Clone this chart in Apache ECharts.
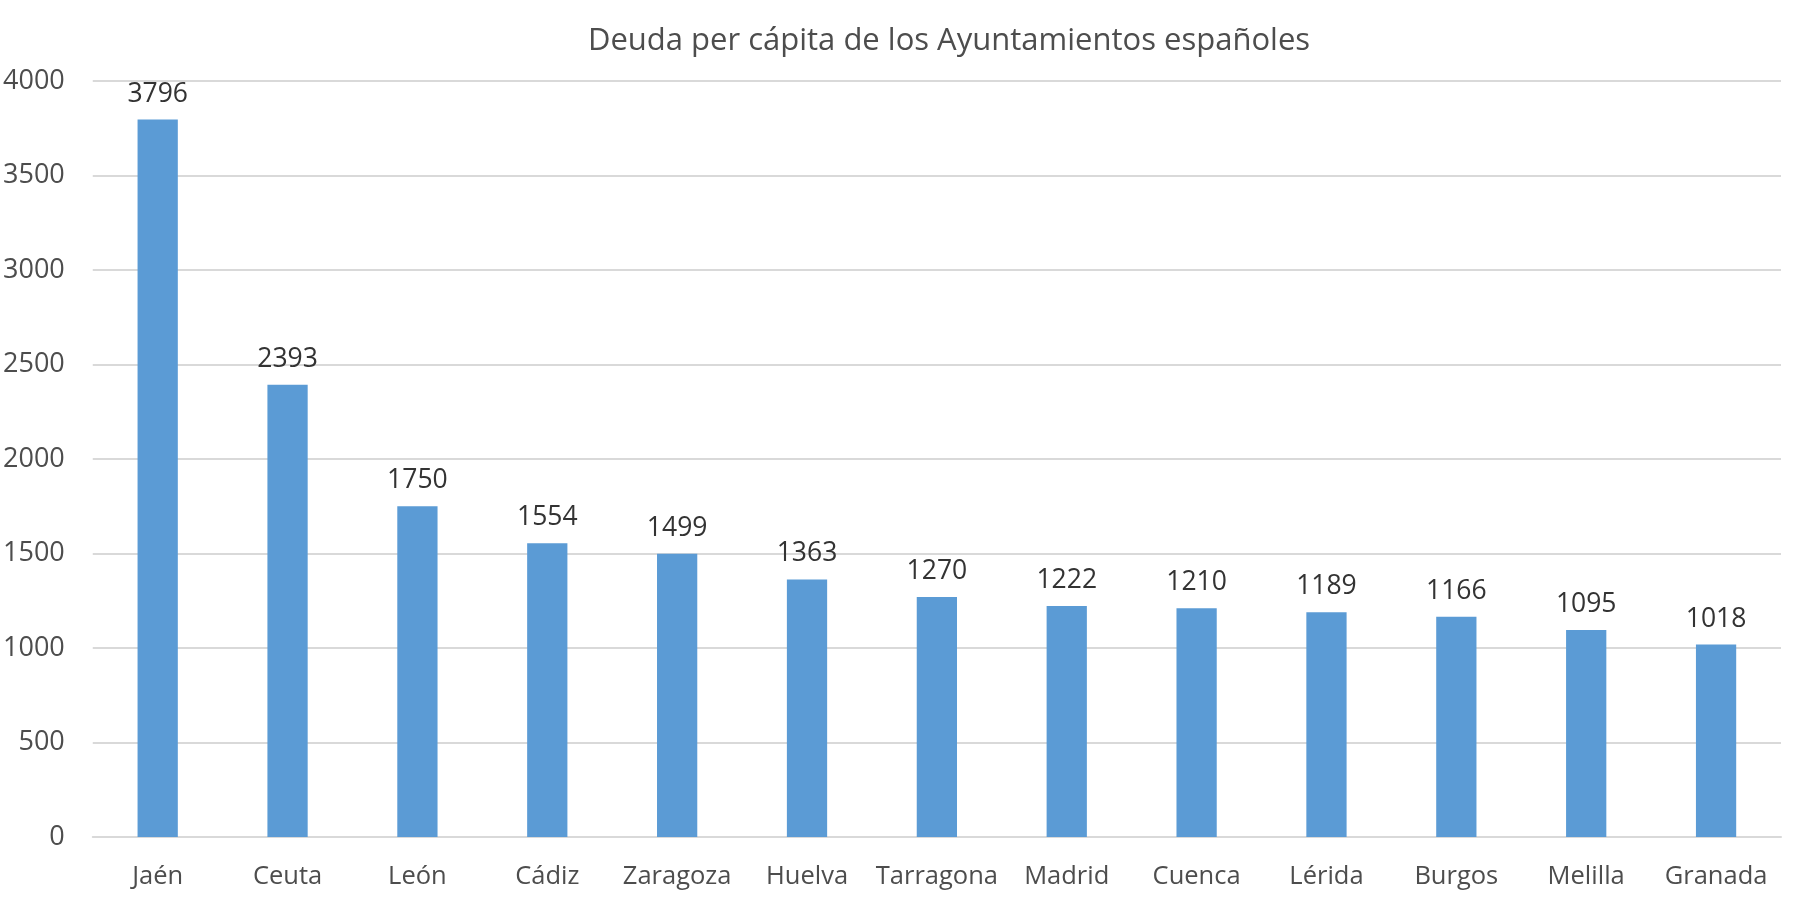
<!DOCTYPE html>
<html>
<head>
<meta charset="utf-8">
<script src="https://cdn.jsdelivr.net/npm/echarts@6/dist/echarts.min.js"></script>
<style>html,body{margin:0;padding:0;background:#fff}#c{width:1793px;height:903px}</style>
</head>
<body>
<div id="c"></div>
<script>
const titleText = 'Deuda per cápita de los Ayuntamientos españoles';
const categories = ['Jaén','Ceuta','León','Cádiz','Zaragoza','Huelva','Tarragona','Madrid','Cuenca','Lérida','Burgos','Melilla','Granada'];
const values = [3796,2393,1750,1554,1499,1363,1270,1222,1210,1189,1166,1095,1018];
const yMin = 0, yMax = 4000, yStep = 500;

const font = '"Open Sans", "Liberation Sans", sans-serif';
const chart = echarts.init(document.getElementById('c'), null, {renderer:'canvas'});
chart.setOption({
  animation: false,
  backgroundColor: '#ffffff',
  title: {
    text: titleText,
    left: 944, top: 21, textAlign: 'center',
    textStyle: {fontFamily: font, fontSize: 31, fontWeight: 'normal', color: '#4d4d4d'}
  },
  grid: {left: 91, right: 12, top: 81, bottom: 66, containLabel: false},
  xAxis: {
    type: 'category', data: categories,
    axisLine: {lineStyle: {color: '#D9D9D9', width: 2}},
    axisTick: {show: false},
    axisLabel: {interval: 0, fontFamily: font, fontSize: 25.5, color: '#4d4d4d', margin: 27}
  },
  yAxis: {
    type: 'value', min: yMin, max: yMax, interval: yStep,
    axisLine: {show: false}, axisTick: {show: false},
    splitLine: {lineStyle: {color: '#D9D9D9', width: 2}},
    axisLabel: {fontFamily: font, fontSize: 27, color: '#4d4d4d', margin: 28, formatter: v => String(v)}
  },
  series: [{
    type: 'bar', data: values, barWidth: '31%',
    itemStyle: {color: '#5B9BD5'},
    label: {show: true, position: 'top', distance: 12, fontFamily: font, fontSize: 26.5, color: '#333333'}
  }]
});
</script>
</body>
</html>
